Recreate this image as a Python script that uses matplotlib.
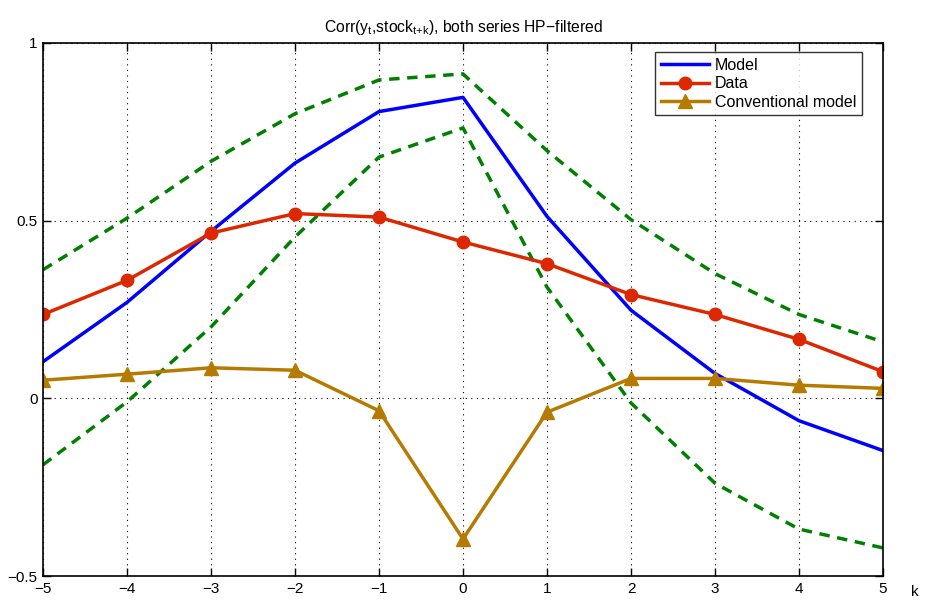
import matplotlib
matplotlib.use("Agg")
import matplotlib.pyplot as plt
import numpy as np

k = [-5, -4, -3, -2, -1, 0, 1, 2, 3, 4, 5]
model = [0.103, 0.270, 0.470, 0.662, 0.807, 0.847, 0.512, 0.248, 0.070, -0.063, -0.147]
data = [0.236, 0.332, 0.465, 0.520, 0.510, 0.440, 0.379, 0.292, 0.236, 0.166, 0.075]
conventional = [0.051, 0.068, 0.086, 0.079, -0.035, -0.396, -0.039, 0.056, 0.056, 0.037, 0.028]
band_upper = [0.362, 0.507, 0.667, 0.801, 0.896, 0.913, 0.697, 0.503, 0.351, 0.236, 0.159]
band_lower = [-0.187, -0.010, 0.201, 0.454, 0.679, 0.761, 0.313, -0.013, -0.239, -0.368, -0.421]

xticks = [-5, -4, -3, -2, -1, 0, 1, 2, 3, 4, 5]
yticks = [-0.5, 0, 0.5, 1]
ytick_labels = ["\u22120.5", "0", "0.5", "1"]
xtick_labels = [("\u2212" + str(-v)) if v < 0 else str(v) for v in xticks]

plt.rcParams['font.family'] = ['Liberation Sans', 'DejaVu Sans']
plt.rcParams['mathtext.fontset'] = 'custom'
plt.rcParams['mathtext.rm'] = 'Liberation Sans'

fig = plt.figure(figsize=(9.27, 6.03), dpi=100)
ax = fig.add_axes([43/927, 1-576/603, (883-43)/927, (576-43)/603])

green = (0, 0.5, 0)
ax.plot(k, band_upper, '--', color=green, lw=2.5, dashes=(3, 2.2))
ax.plot(k, band_lower, '--', color=green, lw=2.5, dashes=(3, 2.2))
l1, = ax.plot(k, model, '-', color='#0000ff', lw=2.5, label='Model')
l2, = ax.plot(k, data, '-o', color='#dc2800', lw=2.5, ms=9, label='Data')
l3, = ax.plot(k, conventional, '-^', color='#b57a00', lw=2.5, ms=9.5, label='Conventional model')

ax.set_xlim(-5, 5)
ax.set_ylim(-0.5, 1)
ax.set_xticks(xticks)
ax.set_xticklabels(xtick_labels)
ax.set_yticks(yticks)
ax.set_yticklabels(ytick_labels)
ax.tick_params(direction='in', top=True, right=True, labelsize=11, length=6, width=1, pad=4)
ax.grid(True, linestyle=(0, (1, 4)), color='black', lw=0.8)
for s in ax.spines.values():
    s.set_linewidth(1.2)

ax.set_title("Corr(y$_\\mathregular{t}$,stock$_\\mathregular{t{+}k}$), both series HP\u2212filtered",
             fontsize=11.3, pad=8)
ax.text(915/927, 1-592/603, "k", transform=fig.transFigure, ha='center', va='center', fontsize=11)

leg = ax.legend(handles=[l1, l2, l3], loc='upper right', bbox_to_anchor=(0.975, 0.983),
                fontsize=11.5, frameon=True, fancybox=False, edgecolor='black',
                borderpad=0.35, labelspacing=0.22, handlelength=3.0, handletextpad=0.4,
                borderaxespad=0)
leg.get_frame().set_linewidth(1.0)

fig.savefig("out.png", dpi=100)
